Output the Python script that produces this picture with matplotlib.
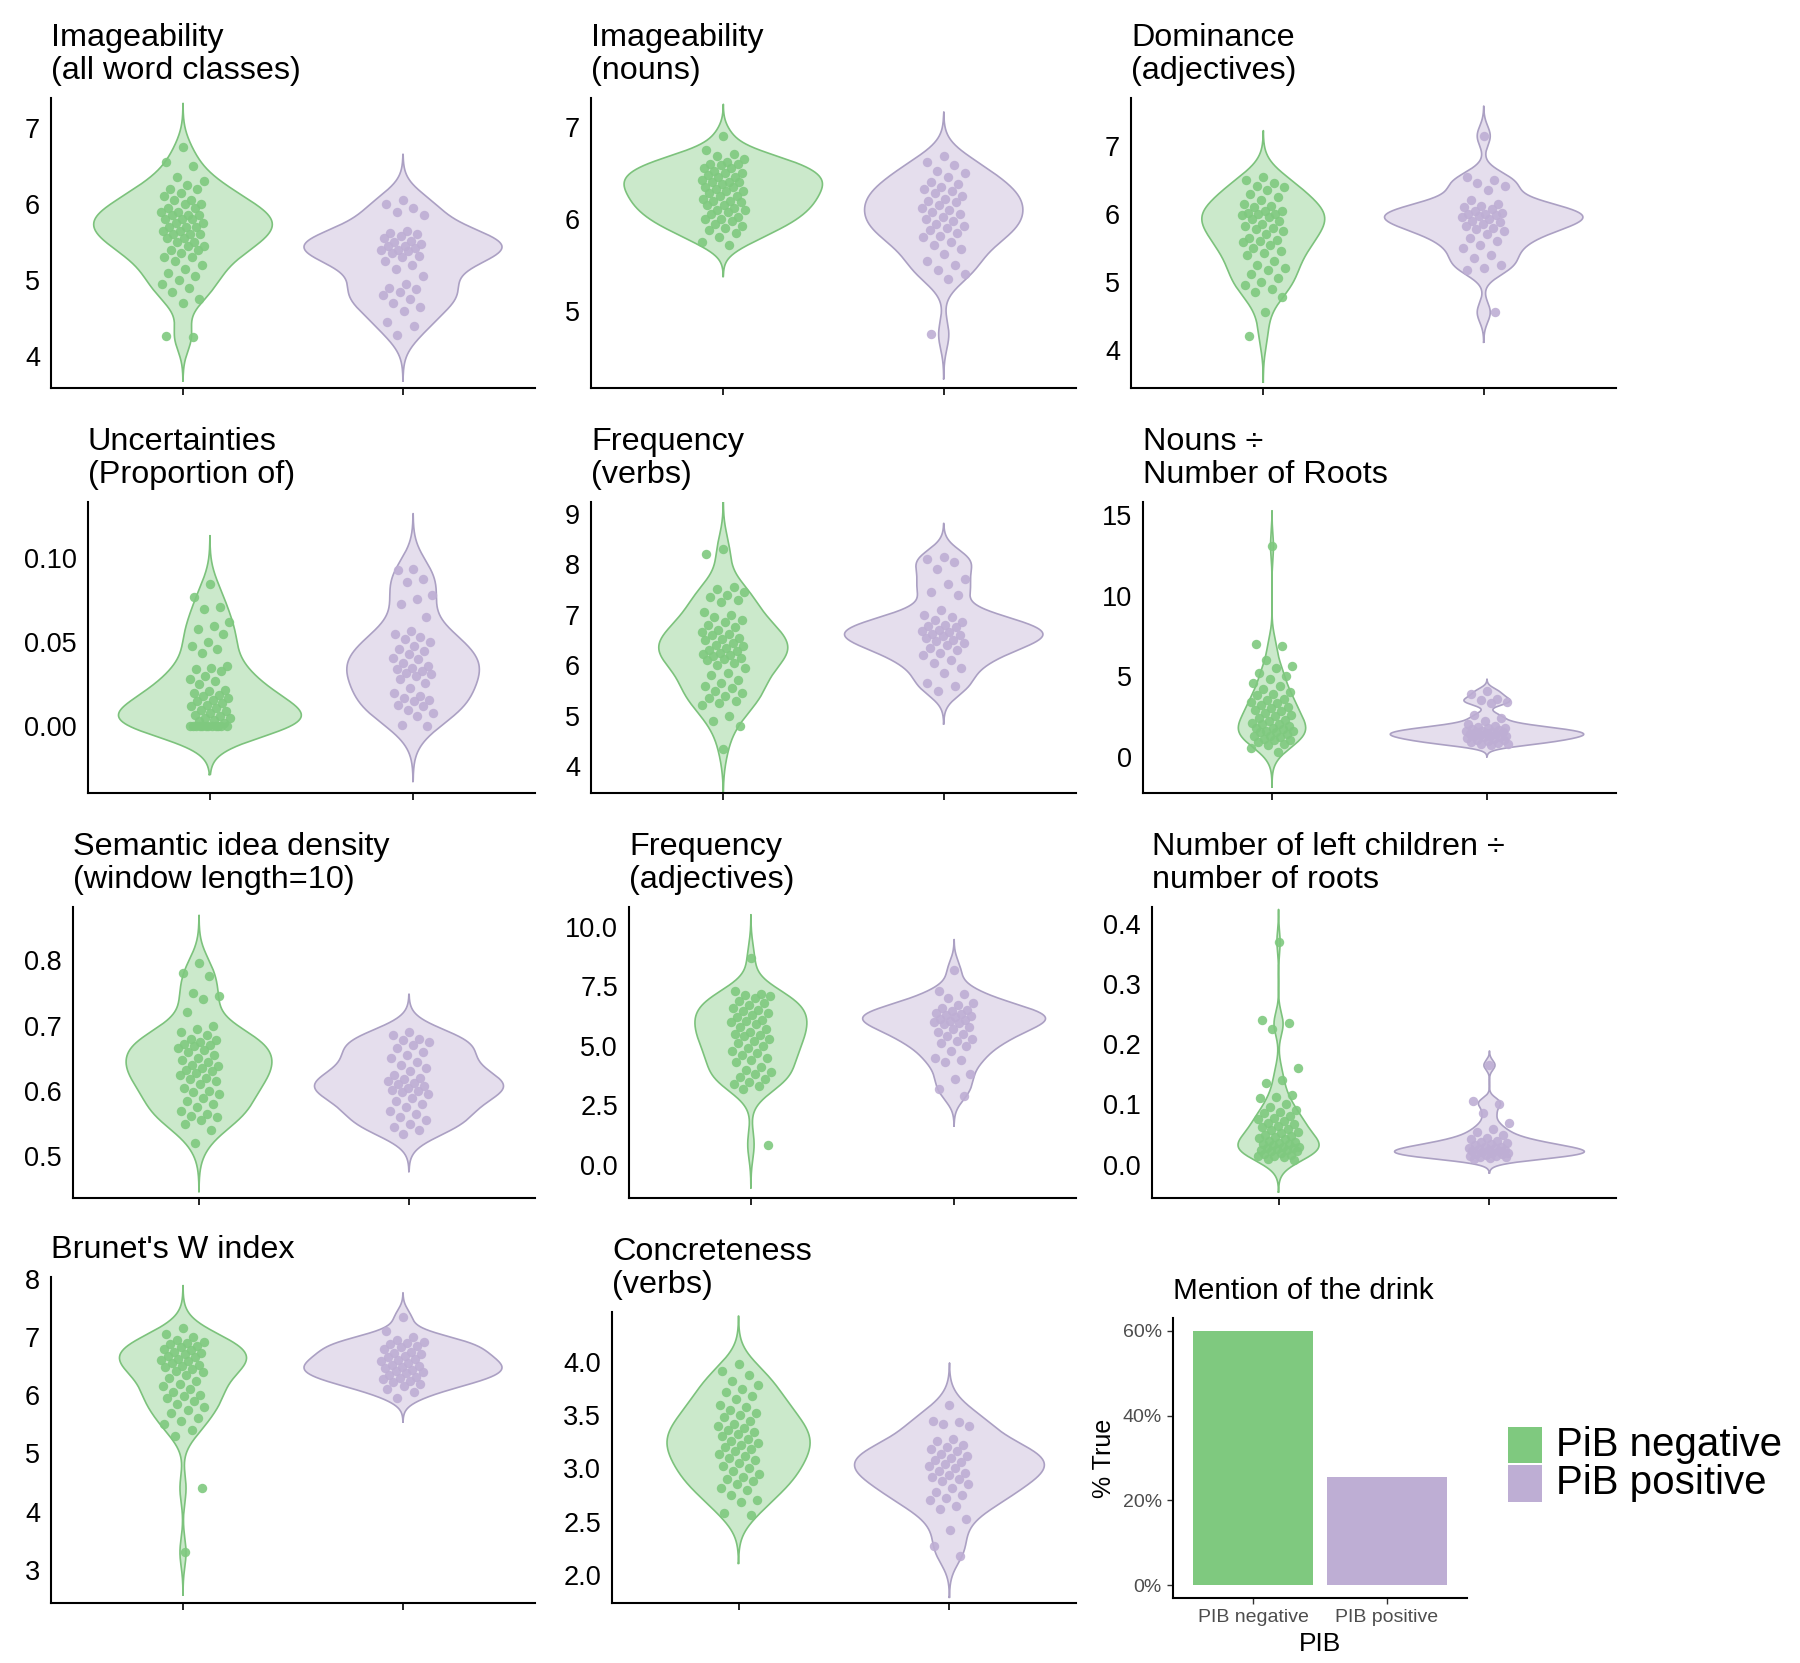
import numpy as np
import matplotlib
matplotlib.use('Agg')
import matplotlib.pyplot as plt
from matplotlib.patches import Rectangle
from matplotlib.ticker import FormatStrFormatter

plt.rcParams['font.family'] = ['Liberation Sans', 'DejaVu Sans']

W, H = 1800, 1663
GREEN, PURPLE = '#7FC97F', '#BEAED4'
EDGE = {GREEN: '#7CC27C', PURPLE: '#ABA0C3'}

groups = ['PiB negative', 'PiB positive']
bar_labels = ['PIB negative', 'PIB positive']
drink_true = [0.60, 0.255]

# ---- per-participant values (negative / positive) ----
img_all_neg = [6.75, 6.55, 6.5, 6.35, 6.3, 6.25, 6.2, 6.2, 6.15, 6.1, 6.05, 6.05, 6.0, 6.0,
               5.95, 5.95, 5.9, 5.9, 5.85, 5.85, 5.85, 5.8, 5.8, 5.8, 5.75, 5.75, 5.7, 5.7,
               5.7, 5.65, 5.65, 5.6, 5.6, 5.6, 5.55, 5.55, 5.5, 5.5, 5.45, 5.45, 5.4, 5.4,
               5.35, 5.3, 5.3, 5.25, 5.2, 5.15, 5.1, 5.05, 5.0, 4.95, 4.9, 4.85, 4.75, 4.7,
               4.27, 4.25]
img_all_pos = [6.05, 6.0, 5.95, 5.9, 5.85, 5.65, 5.62, 5.6, 5.58, 5.55, 5.52, 5.5, 5.48, 5.45,
               5.45, 5.42, 5.4, 5.4, 5.38, 5.35, 5.32, 5.3, 5.25, 5.2, 5.15, 5.05, 4.95, 4.9,
               4.88, 4.85, 4.8, 4.75, 4.7, 4.65, 4.6, 4.45, 4.4, 4.28]

img_noun_neg = [6.9, 6.75, 6.7, 6.68, 6.65, 6.62, 6.6, 6.6, 6.58, 6.55, 6.55, 6.52, 6.5, 6.5,
                6.48, 6.45, 6.45, 6.42, 6.4, 6.4, 6.4, 6.38, 6.35, 6.35, 6.32, 6.3, 6.3, 6.28,
                6.25, 6.25, 6.22, 6.2, 6.2, 6.18, 6.15, 6.15, 6.12, 6.1, 6.1, 6.08, 6.05, 6.02,
                6.0, 6.0, 5.98, 5.95, 5.92, 5.9, 5.88, 5.85, 5.8, 5.75, 5.72]
img_noun_pos = [6.68, 6.62, 6.58, 6.52, 6.5, 6.45, 6.4, 6.38, 6.35, 6.32, 6.3, 6.28, 6.25,
                6.22, 6.2, 6.18, 6.15, 6.12, 6.1, 6.08, 6.05, 6.02, 6.0, 5.98, 5.95, 5.92, 5.9,
                5.88, 5.85, 5.82, 5.8, 5.75, 5.72, 5.68, 5.62, 5.55, 5.5, 5.45, 5.4, 5.35, 4.75]

dom_adj_neg = [6.55, 6.5, 6.45, 6.42, 6.4, 6.35, 6.3, 6.25, 6.2, 6.15, 6.12, 6.1, 6.05, 6.05,
               6.02, 6.0, 6.0, 5.98, 5.95, 5.92, 5.9, 5.85, 5.82, 5.8, 5.78, 5.75, 5.7, 5.65,
               5.62, 5.6, 5.58, 5.55, 5.5, 5.45, 5.42, 5.4, 5.3, 5.25, 5.2, 5.18, 5.12, 5.05,
               5.0, 4.95, 4.9, 4.85, 4.78, 4.55, 4.2]
dom_adj_pos = [7.15, 6.55, 6.5, 6.45, 6.42, 6.35, 6.2, 6.15, 6.12, 6.1, 6.08, 6.05, 6.02, 6.0,
               6.0, 5.98, 5.97, 5.95, 5.93, 5.9, 5.88, 5.85, 5.82, 5.8, 5.78, 5.75, 5.7, 5.65,
               5.6, 5.55, 5.5, 5.4, 5.35, 5.25, 5.2, 5.18, 4.55]

uncert_neg = [0.085, 0.077, 0.071, 0.070, 0.062, 0.060, 0.058, 0.055, 0.050, 0.048, 0.046,
              0.044, 0.036, 0.035, 0.034, 0.033, 0.030, 0.028, 0.027, 0.025, 0.022, 0.021,
              0.020, 0.019, 0.018, 0.017, 0.016, 0.015, 0.014, 0.013, 0.012, 0.011, 0.010,
              0.009, 0.008, 0.007, 0.006, 0.005, 0.005, 0.004, 0.003, 0.002,
              0.0, 0.0, 0.0, 0.0, 0.0, 0.0, 0.0, 0.0, 0.0, 0.0, 0.0, 0.0]
uncert_pos = [0.094, 0.093, 0.088, 0.086, 0.078, 0.076, 0.073, 0.065, 0.057, 0.055, 0.053,
              0.052, 0.050, 0.048, 0.046, 0.045, 0.043, 0.041, 0.040, 0.038, 0.036, 0.035,
              0.034, 0.033, 0.032, 0.031, 0.030, 0.028, 0.026, 0.023, 0.020, 0.018, 0.017,
              0.016, 0.015, 0.013, 0.012, 0.010, 0.008, 0.006, 0.001, 0.0]

freq_verb_neg = [8.3, 8.2, 7.55, 7.5, 7.45, 7.4, 7.35, 7.3, 7.25, 7.05, 7.0, 6.95, 6.9, 6.85,
                 6.8, 6.75, 6.7, 6.65, 6.62, 6.6, 6.55, 6.52, 6.5, 6.45, 6.4, 6.38, 6.35, 6.3,
                 6.28, 6.25, 6.22, 6.2, 6.18, 6.15, 6.12, 6.1, 6.05, 6.0, 5.95, 5.85, 5.8, 5.7,
                 5.65, 5.6, 5.55, 5.5, 5.45, 5.4, 5.35, 5.3, 5.25, 5.22, 5.0, 4.9, 4.8, 4.35]
freq_verb_pos = [8.15, 8.1, 8.05, 7.9, 7.7, 7.6, 7.45, 7.4, 7.1, 7.0, 6.95, 6.9, 6.85, 6.8,
                 6.78, 6.75, 6.7, 6.68, 6.65, 6.62, 6.6, 6.58, 6.55, 6.5, 6.48, 6.45, 6.4,
                 6.35, 6.3, 6.25, 6.2, 6.1, 6.05, 5.95, 5.85, 5.65, 5.6, 5.5]

noun_root_neg = [13.1, 7.0, 6.9, 6.0, 5.6, 5.5, 5.2, 5.0, 4.8, 4.6, 4.4, 4.2, 4.0, 3.9, 3.8,
                 3.6, 3.5, 3.4, 3.3, 3.2, 3.1, 3.0, 2.9, 2.8, 2.7, 2.6, 2.5, 2.4, 2.3, 2.2, 2.1,
                 2.0, 2.0, 1.9, 1.8, 1.8, 1.7, 1.6, 1.6, 1.5, 1.5, 1.4, 1.3, 1.3, 1.2, 1.1, 1.0,
                 1.0, 0.9, 0.8, 0.7, 0.5, 0.3]
noun_root_pos = [4.1, 3.9, 3.6, 3.5, 3.4, 3.3, 2.6, 2.4, 2.2, 2.0, 1.9, 1.85, 1.8, 1.75, 1.7,
                 1.65, 1.6, 1.6, 1.55, 1.5, 1.5, 1.45, 1.4, 1.4, 1.35, 1.3, 1.3, 1.25, 1.2,
                 1.2, 1.15, 1.1, 1.05, 1.0, 0.95, 0.9, 0.85, 0.8, 0.75, 0.7]

sem_dens_neg = [0.795, 0.78, 0.775, 0.75, 0.745, 0.74, 0.72, 0.70, 0.695, 0.69, 0.685, 0.68,
                0.678, 0.675, 0.672, 0.67, 0.668, 0.665, 0.662, 0.66, 0.655, 0.65, 0.648,
                0.645, 0.64, 0.638, 0.635, 0.632, 0.63, 0.628, 0.625, 0.62, 0.618, 0.615,
                0.61, 0.605, 0.60, 0.598, 0.595, 0.59, 0.585, 0.58, 0.575, 0.57, 0.565, 0.562,
                0.56, 0.555, 0.55, 0.54, 0.52]
sem_dens_pos = [0.69, 0.685, 0.68, 0.678, 0.675, 0.67, 0.665, 0.66, 0.655, 0.65, 0.645, 0.64,
                0.635, 0.63, 0.625, 0.62, 0.618, 0.615, 0.612, 0.61, 0.608, 0.605, 0.602,
                0.60, 0.598, 0.595, 0.59, 0.585, 0.58, 0.575, 0.57, 0.565, 0.56, 0.555, 0.55,
                0.545, 0.54, 0.535]

freq_adj_neg = [8.7, 7.3, 7.2, 7.15, 7.1, 7.0, 6.9, 6.8, 6.7, 6.6, 6.5, 6.45, 6.4, 6.3, 6.2,
                6.1, 6.05, 6.0, 5.9, 5.8, 5.7, 5.6, 5.5, 5.45, 5.4, 5.3, 5.2, 5.1, 5.0, 4.9,
                4.8, 4.7, 4.6, 4.5, 4.4, 4.3, 4.1, 4.0, 3.9, 3.8, 3.7, 3.6, 3.5, 3.4, 3.3, 3.2,
                0.85]
freq_adj_pos = [8.2, 7.3, 7.2, 7.0, 6.8, 6.7, 6.6, 6.5, 6.45, 6.4, 6.35, 6.3, 6.25, 6.2, 6.15,
                6.1, 6.05, 6.0, 5.95, 5.9, 5.8, 5.7, 5.6, 5.5, 5.4, 5.3, 5.2, 5.1, 5.0, 4.8,
                4.5, 4.4, 4.3, 3.8, 3.6, 3.2, 2.9]

left_child_neg = [0.37, 0.24, 0.235, 0.225, 0.16, 0.14, 0.135, 0.115, 0.112, 0.11, 0.10,
                  0.095, 0.09, 0.088, 0.085, 0.08, 0.078, 0.075, 0.072, 0.07, 0.068, 0.065,
                  0.062, 0.06, 0.058, 0.055, 0.052, 0.05, 0.048, 0.046, 0.044, 0.042, 0.04,
                  0.038, 0.036, 0.035, 0.034, 0.032, 0.03, 0.029, 0.028, 0.027, 0.026, 0.025,
                  0.024, 0.023, 0.022, 0.02, 0.018, 0.016, 0.015, 0.014, 0.012, 0.01, 0.008]
left_child_pos = [0.165, 0.105, 0.10, 0.085, 0.07, 0.06, 0.055, 0.05, 0.045, 0.042, 0.04,
                  0.038, 0.036, 0.034, 0.032, 0.03, 0.029, 0.028, 0.027, 0.026, 0.025, 0.024,
                  0.023, 0.022, 0.021, 0.02, 0.019, 0.018, 0.017, 0.016, 0.015, 0.014, 0.013,
                  0.012, 0.011, 0.01]

brunet_neg = [7.15, 7.05, 7.0, 6.95, 6.92, 6.9, 6.88, 6.85, 6.82, 6.8, 6.78, 6.75, 6.72, 6.7,
              6.68, 6.65, 6.62, 6.6, 6.58, 6.55, 6.52, 6.5, 6.48, 6.45, 6.42, 6.4, 6.35, 6.3,
              6.25, 6.2, 6.15, 6.1, 6.05, 6.0, 5.98, 5.95, 5.9, 5.85, 5.8, 5.75, 5.7, 5.6,
              5.55, 5.5, 5.4, 5.3, 4.4, 3.3]
brunet_pos = [7.35, 7.1, 7.0, 6.95, 6.92, 6.9, 6.88, 6.85, 6.82, 6.8, 6.75, 6.72, 6.7, 6.68,
              6.65, 6.62, 6.6, 6.58, 6.55, 6.52, 6.5, 6.48, 6.46, 6.44, 6.42, 6.4, 6.38, 6.35,
              6.32, 6.3, 6.28, 6.25, 6.22, 6.2, 6.15, 6.1, 6.05, 5.95]

concr_verb_neg = [3.98, 3.92, 3.88, 3.82, 3.78, 3.75, 3.72, 3.68, 3.65, 3.6, 3.58, 3.55, 3.52,
                  3.5, 3.48, 3.45, 3.42, 3.4, 3.38, 3.36, 3.34, 3.32, 3.3, 3.28, 3.26, 3.24,
                  3.22, 3.2, 3.18, 3.16, 3.14, 3.12, 3.1, 3.08, 3.05, 3.02, 3.0, 2.98, 2.95,
                  2.92, 2.9, 2.88, 2.85, 2.82, 2.8, 2.75, 2.7, 2.68, 2.58, 2.56]
concr_verb_pos = [3.6, 3.45, 3.44, 3.42, 3.4, 3.28, 3.26, 3.22, 3.2, 3.18, 3.16, 3.14, 3.12,
                  3.1, 3.08, 3.06, 3.04, 3.02, 3.0, 2.98, 2.96, 2.94, 2.92, 2.9, 2.88, 2.85,
                  2.82, 2.78, 2.75, 2.72, 2.7, 2.65, 2.62, 2.52, 2.42, 2.27, 2.18]

# title, data, y ticks, tick format, y limits
panels = [
    ("Imageability\n(all word classes)", img_all_neg, img_all_pos, [4, 5, 6, 7], '%d', (3.585, 7.39)),
    ("Imageability\n(nouns)", img_noun_neg, img_noun_pos, [5, 6, 7], '%d', (4.17, 7.31)),
    ("Dominance\n(adjectives)", dom_adj_neg, dom_adj_pos, [4, 5, 6, 7], '%d', (3.435, 7.71)),
    ("Uncertainties\n(Proportion of)", uncert_neg, uncert_pos, [0, 0.05, 0.10], '%.2f', (-0.0396, 0.1336)),
    ("Frequency\n(verbs)", freq_verb_neg, freq_verb_pos, [4, 5, 6, 7, 8, 9], '%d', (3.475, 9.23)),
    ("Nouns \u00f7\nNumber of Roots", noun_root_neg, noun_root_pos, [0, 5, 10, 15], '%d', (-2.27, 15.83)),
    ("Semantic idea density\n(window length=10)", sem_dens_neg, sem_dens_pos, [0.5, 0.6, 0.7, 0.8], '%.1f', (0.4366, 0.881)),
    ("Frequency\n(adjectives)", freq_adj_neg, freq_adj_pos, [0, 2.5, 5, 7.5, 10], '%.1f', (-1.4, 10.84)),
    ("Number of left children \u00f7\nnumber of roots", left_child_neg, left_child_pos, [0, 0.1, 0.2, 0.3, 0.4], '%.1f', (-0.0552, 0.4274)),
    ("Brunet's W index", brunet_neg, brunet_pos, [3, 4, 5, 6, 7, 8], '%d', (2.43, 8.03)),
    ("Concreteness\n(verbs)", concr_verb_neg, concr_verb_pos, [2.0, 2.5, 3.0, 3.5, 4.0], '%.1f', (1.735, 4.47)),
]

# axes boxes in pixels: left, top, right, bottom
boxes = [
    (51, 98, 535, 388), (591, 98, 1076, 388), (1131, 98, 1616, 388),
    (88, 502, 535, 793), (591, 502, 1076, 793), (1143, 502, 1616, 793),
    (73, 907, 535, 1198), (629, 907, 1076, 1198), (1152, 907, 1616, 1198),
    (51, 1277, 535, 1603), (612, 1312, 1076, 1603),
]
bar_box = (1173, 1318, 1467, 1598)


def kde(v):
    # gaussian density like R's density() with bw.nrd0, range extended by 3 bw
    v = np.asarray(v, float)
    n = len(v)
    q75, q25 = np.percentile(v, [75, 25])
    s = min(v.std(ddof=1), (q75 - q25) / 1.34) or v.std(ddof=1)
    bw = 0.9 * s * n ** -0.2
    y = np.linspace(v.min() - 3 * bw, v.max() + 3 * bw, 512)
    d = np.exp(-0.5 * ((y[:, None] - v[None, :]) / bw) ** 2).sum(1) / (n * bw * np.sqrt(2 * np.pi))
    return y, d


def px_axes(fig, box):
    l, t, r, b = box
    return fig.add_axes([l / W, 1 - b / H, (r - l) / W, (b - t) / H])


fig = plt.figure(figsize=(W / 100, H / 100), dpi=100)

for (title, neg, pos, ticks, fmt, ylim), box in zip(panels, boxes):
    ax = px_axes(fig, box)
    dens = [kde(neg), kde(pos)]
    dmax = max(d.max() for _, d in dens)
    for i, ((y, d), vals, col) in enumerate(zip(dens, [neg, pos], [GREEN, PURPLE])):
        x0 = i + 1
        w = 0.45 * d / dmax
        ax.fill_betweenx(y, x0 - w, x0 + w, facecolor=col, alpha=0.4, lw=0)
        ax.plot(np.r_[x0 - w, (x0 + w)[::-1], x0 - w[0]], np.r_[y, y[::-1], y[0]],
                color=EDGE[col], lw=1.2)
        # deterministic jitter (golden-ratio sequence), +-0.1 wide
        k = np.arange(len(vals))
        jit = ((k * 0.6180339887 + 0.5) % 1 - 0.5) * 0.2
        ax.scatter(x0 + jit, vals, s=46, color=col, alpha=0.9, lw=0, zorder=3)
    ax.set_xlim(0.4, 2.6)
    ax.set_ylim(*ylim)
    ax.set_xticks([1, 2])
    ax.set_xticklabels([])
    ax.set_yticks(ticks)
    ax.yaxis.set_major_formatter(FormatStrFormatter(fmt))
    ax.tick_params(axis='x', length=5, width=1.2, color='black')
    ax.tick_params(axis='y', length=0, pad=8, labelsize=19.5, labelcolor='black')
    for s in ['top', 'right']:
        ax.spines[s].set_visible(False)
    for s in ['left', 'bottom']:
        ax.spines[s].set_linewidth(1.5)
    ax.set_title(title, loc='left', fontsize=23.3, pad=14, linespacing=1.12)

# bar chart: mention of the drink
ax = px_axes(fig, bar_box)
ax.bar([1, 2], drink_true, width=0.9, color=[GREEN, PURPLE])
ax.set_xlim(0.4, 2.6)
ax.set_ylim(-0.03, 0.63)
ax.set_xticks([1, 2])
ax.set_xticklabels(bar_labels)
ax.set_yticks([0, 0.2, 0.4, 0.6])
ax.set_yticklabels(['0%', '20%', '40%', '60%'])
ax.tick_params(length=4, width=1, color='#333333', labelsize=14, labelcolor='#4D4D4D', pad=4)
ax.set_xlabel('PIB', fontsize=19, labelpad=4)
ax.set_ylabel('% True', fontsize=18, labelpad=5)
for s in ['top', 'right']:
    ax.spines[s].set_visible(False)
for s in ['left', 'bottom']:
    ax.spines[s].set_linewidth(1.5)
ax.set_title('Mention of the drink', loc='left', fontsize=21.4, pad=14)

# legend
for (top, bot), col, lab in zip([(1427, 1463), (1465, 1502)], [GREEN, PURPLE], groups):
    fig.add_artist(Rectangle((1508 / W, 1 - bot / H), 34 / W, (bot - top) / H,
                             transform=fig.transFigure, facecolor=col, edgecolor='none'))
    fig.text(1556 / W, 1 - (top + bot) / 2 / H, lab, fontsize=29, va='center', ha='left')

fig.savefig('out.png', dpi=100)
